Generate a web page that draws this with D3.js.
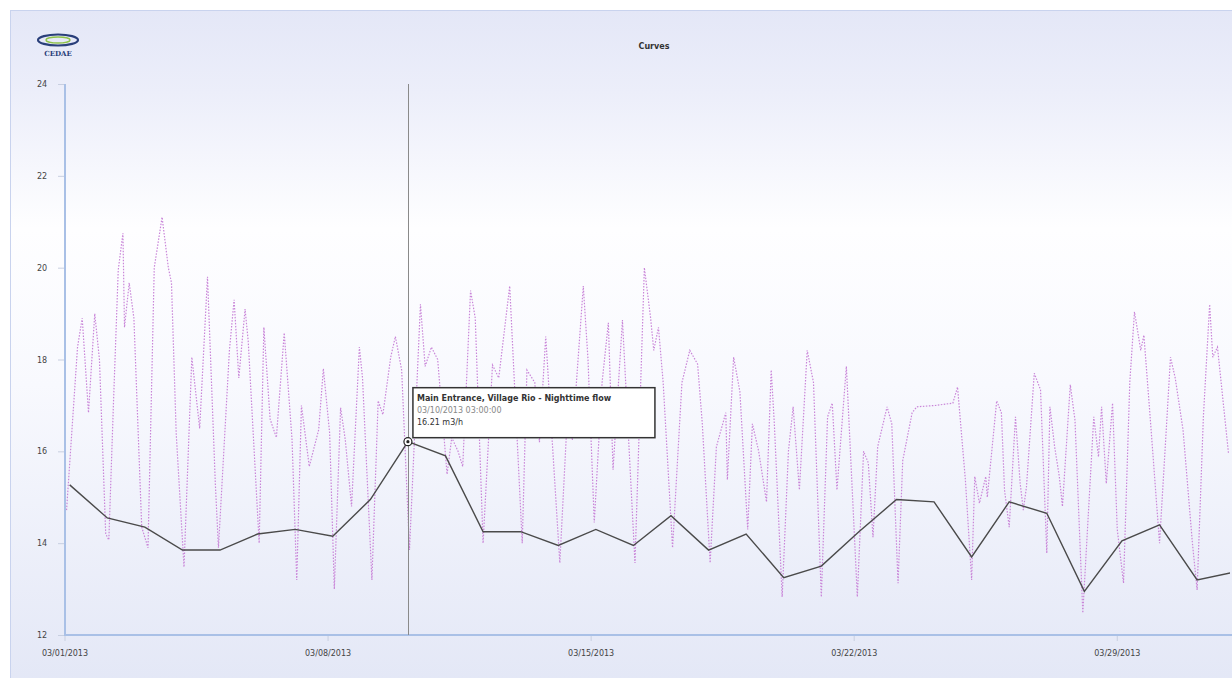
<!DOCTYPE html>
<html>
<head>
<meta charset="utf-8">
<script src="https://cdn.jsdelivr.net/npm/d3@7/dist/d3.min.js"></script>
<style>
  html, body { margin: 0; padding: 0; background: #fff; }
  svg { display: block; font-family: "DejaVu Sans", Verdana, sans-serif; }
</style>
</head>
<body>
<svg id="chart" width="1232" height="678"></svg>
<script>
// y ticks
var yTicks = [12, 14, 16, 18, 20, 22, 24];

// nighttime flow, one value per day at 03:00 (03/01 .. 04/01)
var nightValues = [15.27, 14.55, 14.35, 13.85, 13.85, 14.2, 14.3, 14.15, 14.95, 16.21,
                   15.9, 14.25, 14.25, 13.95, 14.3, 13.95, 14.6, 13.85, 14.2, 13.25,
                   13.5, 14.25, 14.95, 14.9, 13.7, 14.9, 14.65, 12.95, 14.05, 14.4,
                   13.2, 13.37];

// flow curve: hours since 03/01 00:00 and value
var flowHours = [1, 8, 11, 15, 19, 22, 26, 28, 31, 34, 37, 38, 41, 44, 49, 53, 57, 62, 66, 68,
                 71, 76, 81, 86, 91, 96, 98, 105, 108, 111, 115, 117, 124, 127, 131, 135, 140, 145, 148, 151,
                 156, 162, 165, 169, 172, 176, 179, 183, 188, 190, 196, 200, 203, 208, 211, 215, 220, 227, 230, 234,
                 238, 244, 247, 251, 254, 259, 262, 267, 273, 277, 284, 292, 295, 300, 303, 307, 316, 321, 324, 331,
                 334, 338, 343, 347, 350, 356, 364, 370, 374, 376, 379, 382, 388, 394, 399, 404, 407, 412, 416, 422,
                 423, 427, 431, 436, 439, 443, 448, 451, 453, 458, 462, 465, 469, 474, 478, 483, 487, 490, 493, 499,
                 506, 510, 513, 516, 519, 525, 528, 532, 535, 541, 544, 556, 567, 570, 575, 579, 581, 584, 588, 589,
                 595, 598, 600, 603, 607, 610, 612, 614, 619, 623, 627, 629, 632, 635, 637, 642, 645, 650, 657, 660,
                 662, 665, 669, 672, 676, 680, 683, 687, 689, 693, 699, 703, 706, 709, 714, 720, 723, 727, 731, 733,
                 736, 743];
var flowValues = [14.72, 18.27, 18.9, 16.84, 19.0, 18.0, 14.2, 14.07, 17.1, 19.95, 20.75, 18.7, 19.67, 18.9, 14.35, 13.9, 20.0, 21.1, 20.0, 19.67,
                  16.4, 13.48, 18.05, 16.5, 19.8, 15.3, 13.9, 18.2, 19.3, 17.6, 19.1, 18.4, 14.0, 18.7, 16.7, 16.3, 18.58, 16.25, 13.2, 17.0,
                  15.67, 16.47, 17.8, 16.4, 13.0, 16.95, 16.25, 14.8, 18.27, 17.6, 13.2, 17.1, 16.8, 18.05, 18.5, 17.77, 13.85, 19.2, 17.85, 18.27,
                  18.0, 15.5, 16.3, 16.0, 15.67, 19.5, 18.9, 14.0, 17.88, 17.6, 19.6, 14.0, 17.77, 17.5, 16.2, 18.5, 13.57, 16.9, 16.25, 19.6,
                  18.0, 14.45, 17.5, 18.8, 15.6, 18.86, 13.57, 20.0, 18.9, 18.2, 18.7, 17.5, 13.9, 17.5, 18.2, 17.9, 16.6, 13.57, 16.1, 16.84,
                  15.38, 18.05, 17.3, 14.3, 16.6, 16.0, 14.9, 17.77, 16.6, 12.83, 16.0, 16.97, 15.16, 18.2, 17.5, 12.83, 16.75, 17.05, 15.16, 17.85,
                  12.83, 16.0, 15.75, 14.13, 16.1, 16.97, 16.6, 13.13, 15.8, 16.84, 16.97, 17.0, 17.05, 17.4, 15.38, 13.2, 15.45, 14.87, 15.45, 15.0,
                  17.1, 16.84, 15.16, 14.35, 16.75, 15.3, 14.72, 15.22, 17.7, 17.34, 13.78, 16.97, 16.1, 15.45, 14.8, 17.45, 16.68, 12.48, 16.75, 15.88,
                  16.97, 15.3, 17.05, 14.3, 13.13, 17.5, 19.04, 18.2, 18.53, 16.75, 14.0, 16.3, 18.05, 17.6, 16.47, 14.0, 12.98, 16.75, 19.2, 18.05,
                  18.27, 15.97];

var tipIndex = 9;
var tipTitle = "Main Entrance, Village Rio - Nighttime flow";
var tipDate = "03/10/2013 03:00:00";
var tipValue = "16.21 m3/h";

var start = Date.UTC(2013, 2, 1);
var end = Date.UTC(2013, 3, 1);

var svg = d3.select("#chart");

// background panel
var defs = svg.append("defs");
var grad = defs.append("linearGradient")
    .attr("id", "bg")
    .attr("x1", 0).attr("y1", 0).attr("x2", 0).attr("y2", 1);
grad.append("stop").attr("offset", "0%").attr("stop-color", "#e4e7f7");
grad.append("stop").attr("offset", "12%").attr("stop-color", "#eceefa");
grad.append("stop").attr("offset", "32%").attr("stop-color", "#fefeff");
grad.append("stop").attr("offset", "55%").attr("stop-color", "#f8f9fe");
grad.append("stop").attr("offset", "100%").attr("stop-color", "#e3e7f6");

defs.append("clipPath").attr("id", "plotclip")
    .append("rect")
    .attr("x", 66).attr("y", 60).attr("width", 1164).attr("height", 576);

svg.append("rect")
    .attr("x", 10.5).attr("y", 10.5)
    .attr("width", 1230).attr("height", 680)
    .attr("fill", "url(#bg)")
    .attr("stroke", "#c9d3ee");

// scales
var x = d3.scaleUtc().domain([start, end]).range([65, 1230]);
var y = d3.scaleLinear().domain([12, 24]).range([635, 84]);

// logo
var logo = svg.append("g").attr("transform", "translate(58,40)");
logo.append("ellipse").attr("rx", 20).attr("ry", 5.5)
    .attr("fill", "none").attr("stroke", "#2a3f7a").attr("stroke-width", 2.2);
logo.append("ellipse").attr("rx", 12).attr("ry", 3)
    .attr("fill", "none").attr("stroke", "#8fc24a").attr("stroke-width", 1.5);
logo.append("text").attr("x", 0).attr("y", 16)
    .attr("text-anchor", "middle")
    .style("font-family", "'DejaVu Serif', serif")
    .style("font-size", "7px").style("font-weight", "bold")
    .attr("fill", "#2a3f7a")
    .text("CEDAE");

// title
svg.append("text")
    .attr("x", 654).attr("y", 49)
    .attr("text-anchor", "middle")
    .style("font-size", "8px").style("font-weight", "bold")
    .attr("fill", "#333")
    .text("Curves");

// axes
svg.append("line")
    .attr("x1", 65).attr("x2", 65).attr("y1", 84).attr("y2", 636)
    .attr("stroke", "#a9c0e6").attr("stroke-width", 2);
svg.append("line")
    .attr("x1", 64).attr("x2", 1232).attr("y1", 635).attr("y2", 635)
    .attr("stroke", "#a9c0e6").attr("stroke-width", 2);

svg.selectAll(".ytick")
    .data(yTicks)
    .enter().append("line")
    .attr("x1", 58).attr("x2", 64)
    .attr("y1", function(d) { return y(d) + 0.5; })
    .attr("y2", function(d) { return y(d) + 0.5; })
    .attr("stroke", "#c8cfe0");

svg.selectAll(".ylab")
    .data(yTicks)
    .enter().append("text")
    .attr("x", 37)
    .attr("y", function(d) { return y(d) + 3; })
    .style("font-size", "8px")
    .attr("fill", "#444")
    .text(function(d) { return d; });

var xTicks = d3.utcDay.every(7).range(new Date(start), new Date(end)).filter(function(d) { return (d - start) % (7 * 864e5) == 0; });
var fmt = d3.utcFormat("%m/%d/%Y");

svg.selectAll(".xtick")
    .data(xTicks)
    .enter().append("line")
    .attr("x1", function(d) { return x(d); })
    .attr("x2", function(d) { return x(d); })
    .attr("y1", 636).attr("y2", 641)
    .attr("stroke", "#c8cfe0");

svg.selectAll(".xlab")
    .data(xTicks)
    .enter().append("text")
    .attr("x", function(d) { return x(d); })
    .attr("y", 656)
    .attr("text-anchor", "middle")
    .style("font-size", "8px")
    .attr("fill", "#444")
    .text(function(d) { return fmt(d); });

var plot = svg.append("g").attr("clip-path", "url(#plotclip)");

// flow curve (dotted)
var flow = flowHours.map(function(h, i) { return { t: start + h * 3600e3, v: flowValues[i] }; });
var line = d3.line()
    .x(function(d) { return x(d.t); })
    .y(function(d) { return y(d.v); });

plot.append("path")
    .datum(flow)
    .attr("d", line)
    .attr("fill", "none")
    .attr("stroke", "#c985d8")
    .attr("stroke-width", 1.2)
    .attr("stroke-dasharray", "1.5,1.5");

// nighttime flow
var night = nightValues.map(function(v, i) { return { t: start + i * 864e5 + 3 * 3600e3, v: v }; });
plot.append("path")
    .datum(night)
    .attr("d", line)
    .attr("fill", "none")
    .attr("stroke", "#4a4a4a")
    .attr("stroke-width", 1.4);

// crosshair + tooltip
var tp = night[tipIndex];
var tx = x(tp.t), ty = y(tp.v);

svg.append("line")
    .attr("x1", Math.round(tx) + 0.5).attr("x2", Math.round(tx) + 0.5)
    .attr("y1", 84).attr("y2", 635)
    .attr("stroke", "#8a8a8a");

svg.append("circle")
    .attr("cx", tx).attr("cy", ty).attr("r", 4)
    .attr("fill", "#fff").attr("stroke", "#222").attr("stroke-width", 1.2);
svg.append("circle")
    .attr("cx", tx).attr("cy", ty).attr("r", 1.6)
    .attr("fill", "#222");

var tip = svg.append("g").attr("transform", "translate(" + (tx + 5) + "," + (ty - 54) + ")");
tip.append("rect")
    .attr("width", 242).attr("height", 50)
    .attr("fill", "#fff")
    .attr("stroke", "#333").attr("stroke-width", 1.5);
tip.append("text").attr("x", 4).attr("y", 13)
    .style("font-size", "8px").style("font-weight", "bold")
    .attr("fill", "#333").text(tipTitle);
tip.append("text").attr("x", 4).attr("y", 25)
    .style("font-size", "8px")
    .attr("fill", "#888").text(tipDate);
tip.append("text").attr("x", 4).attr("y", 37)
    .style("font-size", "8px")
    .attr("fill", "#333").text(tipValue);
</script>
</body>
</html>
